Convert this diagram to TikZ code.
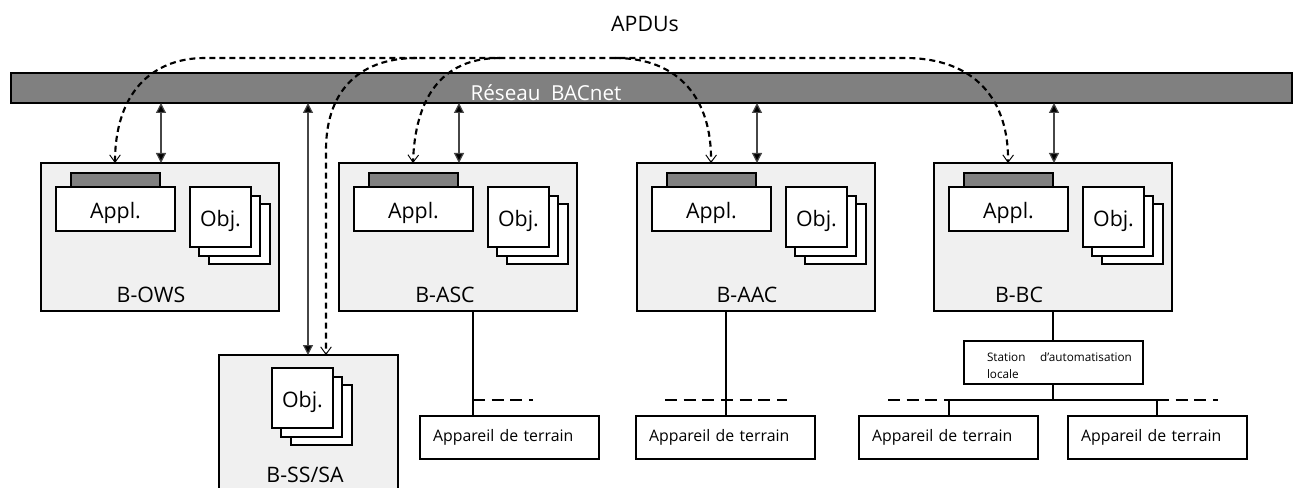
\documentclass[tikz,border=0pt]{standalone}
\usepackage{fontspec}
\setmainfont{Open Sans}
\usetikzlibrary{arrows.meta}
\definecolor{netgray}{RGB}{128,128,128}
\definecolor{boxgray}{RGB}{240,240,240}
\definecolor{wiregray}{RGB}{70,70,70}
\begin{document}
\begin{tikzpicture}[x=0.75pt,y=-0.75pt,
  every node/.style={inner sep=0pt, outer sep=0pt},
  lbl/.style={font=\fontsize{16}{19}\selectfont},
  dev/.style={draw, fill=boxgray, line width=0.9pt, minimum width=178.5pt, minimum height=111pt, anchor=north west},
  ssbox/.style={draw, fill=boxgray, line width=0.9pt, minimum width=134.25pt, minimum height=112pt, anchor=north west},
  tabbox/.style={draw, fill=netgray, line width=0.9pt, minimum width=66.75pt, minimum height=10.5pt, anchor=north west},
  applbox/.style={draw, fill=white, line width=0.9pt, minimum width=89.25pt, minimum height=33pt, anchor=north west},
  objbox/.style={draw, fill=white, line width=0.9pt, minimum width=45.75pt, minimum height=45pt, anchor=north west},
  fdbox/.style={draw, fill=white, line width=0.9pt, minimum width=134.25pt, minimum height=32.25pt, anchor=north west,
    text width=114.75pt, inner xsep=9.75pt, align=left, font=\fontsize{11.9}{14}\selectfont},
  stbox/.style={draw, fill=white, line width=0.9pt, minimum width=134.25pt, minimum height=32.25pt, anchor=north west},
  netarrow/.style={draw=wiregray, line width=0.9pt, {Triangle[length=7.5pt,width=7.5pt,fill=black]}-{Triangle[length=7.5pt,width=7.5pt,fill=black]}},
  apdu/.style={line width=1.6pt, dash pattern=on 4.5pt off 3pt},
  vtip/.style={-{Straight Barb[length=5.5pt,width=8pt,line width=0.7pt]}},
  vboth/.style={{Straight Barb[length=5.5pt,width=8pt,line width=0.7pt]}-{Straight Barb[length=5.5pt,width=8pt,line width=0.7pt]}},
  wire/.style={line width=0.9pt},
  fielddash/.style={line width=1.7pt, dash pattern=on 9pt off 5pt}
]
\useasboundingbox (0,0) rectangle (1299,488);
\clip (0,0) rectangle (1299,488);

% title
\node[lbl] (apdus) at (645,24) {APDUs};

% network bar
\node[draw, fill=netgray, line width=0.9pt, minimum width=960.75pt, minimum height=22.5pt, anchor=north west] (bar) at (11,73) {};
\node[lbl, text=white, anchor=base, font=\fontsize{15.5}{18}\selectfont] (bartxt) at (546,101) {Réseau\hspace{4pt} BACnet};

% BACnet devices
\foreach \L/\n/\lx/\lab in {41/ows/151/B-OWS, 339/asc/445/B-ASC, 637/aac/747/B-AAC, 934/bc/1019/B-BC}{
  \node[dev] (box-\n) at (\L,163) {};
  \node[tabbox] (tab-\n) at (\L+30,173) {};
  \node[applbox] (appl-\n) at (\L+15,187) {};
  \node[lbl] (appltxt-\n) at ([yshift=-3pt]appl-\n.center) {Appl.};
  \node[objbox] (objc-\n) at (\L+168,204) {};
  \node[objbox] (objb-\n) at (\L+158,196) {};
  \node[objbox] (obja-\n) at (\L+149,187) {};
  \node[lbl] (objtxt-\n) at ([yshift=-3pt]obja-\n.center) {Obj.};
  \node[lbl] (name-\n) at (\lx,295) {\lab};
  \coordinate (nt-\n) at (\L+120,163);
  \coordinate (dt-\n) at (\L+74,163);
  \draw[netarrow] (nt-\n |- bar.south) -- (nt-\n);
}

% B-SS/SA
\node[ssbox] (box-ss) at (219,355) {};
\node[objbox] (objc-ss) at (291,385) {};
\node[objbox] (objb-ss) at (281,377) {};
\node[objbox] (obja-ss) at (272,368) {};
\node[lbl] (objtxt-ss) at ([yshift=-3pt]obja-ss.center) {Obj.};
\node[lbl] (name-ss) at (305,475) {B-SS/SA};
\coordinate (nt-ss) at (308,355);
\coordinate (dt-ss) at (326,355);
\draw[netarrow] (nt-ss |- bar.south) -- (nt-ss);

% APDU dashed paths
\coordinate (ja) at (205,58);
\coordinate (jb) at (905,58);
\coordinate (jss) at (417,58);
\coordinate (jasc) at (500,58);
\coordinate (jaac) at (615,58);
\draw[apdu, vboth] (dt-ows) .. controls (115,95) and (150,58) .. (ja) -- (jb) .. controls (975,58) and (1009,100) .. (dt-bc);
\draw[apdu, vtip] (jss) .. controls (355,58) and (326,95) .. (326,150) -- (dt-ss);
\draw[apdu, vtip] (jasc) .. controls (440,58) and (415,100) .. (dt-asc);
\draw[apdu, vtip] (jaac) .. controls (680,58) and (712,100) .. (dt-aac);

% field level: B-ASC
\node[fdbox] (fd-asc) at (420,416) {Appareil de terrain};
\coordinate (x-asc) at (473,400);
\draw[wire] (box-asc.south -| x-asc) -- (fd-asc.north -| x-asc);
\coordinate (e-asc) at (533,400);
\draw[fielddash] (x-asc) -- (e-asc);

% field level: B-AAC
\node[fdbox] (fd-aac) at (636,416) {Appareil de terrain};
\coordinate (x-aac) at (726,400);
\draw[wire] (box-aac.south -| x-aac) -- (fd-aac.north -| x-aac);
\coordinate (s-aac) at (665,400);
\coordinate (e-aac) at (787,400);
\draw[fielddash] (s-aac) -- (e-aac);

% field level: B-BC
\node[stbox] (sta) at (964,341) {};
\node[anchor=west, align=left, font=\fontsize{8.8}{12.75}\selectfont] (statxt) at ([xshift=17.25pt,yshift=-2.5pt]sta.west) {Station\hspace{11pt}d'automatisation\\locale};
\node[fdbox] (fd-bc1) at (859,416) {Appareil de terrain};
\node[fdbox] (fd-bc2) at (1068,416) {Appareil de terrain};
\coordinate (x-bc) at (1053,400);
\coordinate (l-bc) at (949,400);
\coordinate (r-bc) at (1157,400);
\coordinate (ll-bc) at (888,400);
\coordinate (rr-bc) at (1218,400);
\draw[wire] (box-bc.south -| x-bc) -- (sta.north -| x-bc);
\draw[wire] (sta.south -| x-bc) -- (x-bc);
\draw[wire] (l-bc) -- (r-bc);
\draw[wire] (l-bc) -- (fd-bc1.north -| l-bc);
\draw[wire] (r-bc) -- (fd-bc2.north -| r-bc);
\draw[fielddash] (ll-bc) -- (l-bc);
\draw[fielddash] (r-bc) -- (rr-bc);
\end{tikzpicture}
\end{document}
